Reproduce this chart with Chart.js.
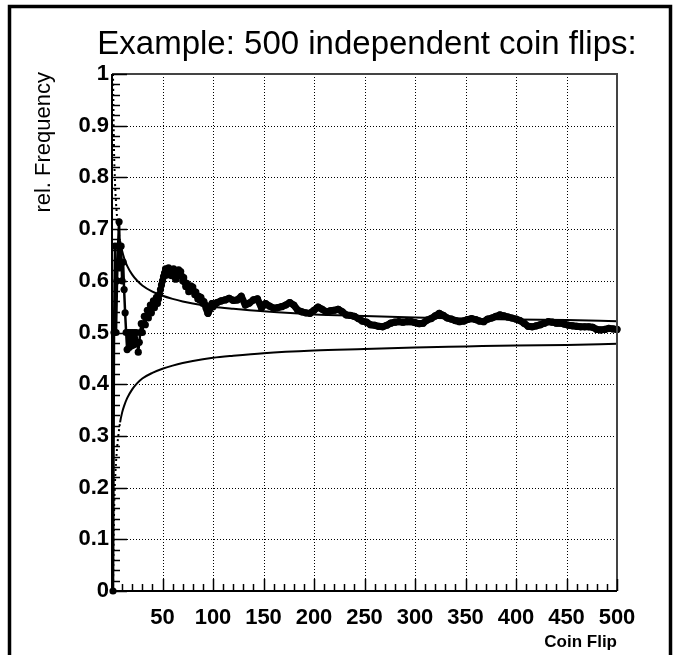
<!DOCTYPE html>
<html>
<head>
<meta charset="utf-8">
<script src="https://cdn.jsdelivr.net/npm/chart.js@4.4.0/dist/chart.umd.min.js"></script>
<style>
  html, body { margin: 0; padding: 0; background: #fff; }
  canvas { display: block; }
</style>
</head>
<body>
<canvas id="flipChart" width="677" height="655"></canvas>
<script>
// coin flip number (every flip up to 100, then every 4th)
const flips = [];
for (let n = 1; n <= 100; n++) flips.push(n);
for (let n = 104; n <= 500; n += 4) flips.push(n);

// relative frequency of heads
const relFreq = [
    0, 0.5, 0.667, 0.5, 0.6, 0.667, 0.714, 0.625, 0.667, 0.6,
    0.636, 0.583, 0.538, 0.5, 0.467, 0.5, 0.471, 0.5, 0.474, 0.5,
    0.476, 0.5, 0.478, 0.5, 0.48, 0.462, 0.481, 0.5, 0.517, 0.5,
    0.516, 0.531, 0.515, 0.529, 0.543, 0.528, 0.541, 0.553, 0.538, 0.55,
    0.561, 0.548, 0.558, 0.568, 0.556, 0.565, 0.574, 0.583, 0.592, 0.6,
    0.608, 0.615, 0.623, 0.611, 0.618, 0.625, 0.614, 0.621, 0.61, 0.617,
    0.623, 0.613, 0.603, 0.609, 0.615, 0.621, 0.612, 0.618, 0.609, 0.6,
    0.606, 0.597, 0.589, 0.595, 0.587, 0.579, 0.584, 0.59, 0.582, 0.588,
    0.58, 0.573, 0.578, 0.571, 0.565, 0.57, 0.563, 0.568, 0.562, 0.556,
    0.56, 0.554, 0.548, 0.543, 0.537, 0.542, 0.546, 0.551, 0.556, 0.55,
    // 104 .. 500 step 4
    0.558, 0.561, 0.563, 0.566, 0.562, 0.563, 0.57, 0.553, 0.557, 0.563,
    0.565, 0.548, 0.556, 0.551, 0.547, 0.548, 0.55, 0.553, 0.558, 0.553,
    0.543, 0.54, 0.538, 0.537, 0.543, 0.549, 0.545, 0.54, 0.542, 0.543,
    0.545, 0.54, 0.534, 0.533, 0.531, 0.527, 0.522, 0.52, 0.515, 0.514,
    0.512, 0.511, 0.514, 0.518, 0.52, 0.521, 0.52, 0.521, 0.521, 0.519,
    0.517, 0.518, 0.524, 0.527, 0.532, 0.537, 0.533, 0.528, 0.526, 0.523,
    0.521, 0.522, 0.525, 0.527, 0.525, 0.522, 0.521, 0.526, 0.528, 0.531,
    0.534, 0.532, 0.53, 0.528, 0.526, 0.523, 0.518, 0.512, 0.511, 0.513,
    0.515, 0.518, 0.521, 0.52, 0.518, 0.518, 0.516, 0.514, 0.513, 0.512,
    0.511, 0.511, 0.511, 0.51, 0.506, 0.505, 0.506, 0.508, 0.507, 0.506
];

// 1 sigma band curves
const bandN = [1, 2, 3, 4, 5, 6, 8, 10, 12, 15, 20, 25, 30, 40, 50, 60, 70, 80, 100, 120, 150, 200, 250, 300, 350, 400, 450, 500];
const upperBand = [1.0, 0.854, 0.789, 0.75, 0.724, 0.704, 0.677, 0.658, 0.644, 0.629, 0.612, 0.6, 0.591, 0.579, 0.571, 0.565, 0.56, 0.556, 0.55, 0.546, 0.541, 0.535, 0.532, 0.529, 0.527, 0.525, 0.524, 0.522];
const lowerBand = [0, 0.146, 0.211, 0.25, 0.276, 0.296, 0.326, 0.345, 0.358, 0.373, 0.39, 0.402, 0.411, 0.422, 0.43, 0.436, 0.441, 0.445, 0.451, 0.455, 0.46, 0.465, 0.468, 0.471, 0.473, 0.475, 0.476, 0.478];

const titleText = 'Example: 500 independent coin flips:';
const yTitle = 'rel. Frequency';
const xTitle = 'Coin Flip';

const FONT = "'Liberation Sans', Arial, Helvetica, sans-serif";

const toXY = (xs, ys) => xs.map((x, i) => ({ x: x, y: ys[i] }));

// dotted grid, inward ticks, frame and the texts (ROOT look)
const rootFrame = {
    id: 'rootFrame',
    beforeDatasetsDraw(chart) {
        const ctx = chart.ctx;
        const xs = chart.scales.x, ys = chart.scales.y;
        const a = chart.chartArea;
        ctx.save();
        ctx.strokeStyle = '#000';
        ctx.lineWidth = 1;
        ctx.setLineDash([1, 2]);
        for (let v = 50; v < 500; v += 50) {
            const px = Math.round(xs.getPixelForValue(v)) + 0.5;
            ctx.beginPath(); ctx.moveTo(px, a.top); ctx.lineTo(px, a.bottom); ctx.stroke();
        }
        for (let i = 1; i < 10; i++) {
            const py = Math.round(ys.getPixelForValue(i / 10)) + 0.5;
            ctx.beginPath(); ctx.moveTo(a.left, py); ctx.lineTo(a.right, py); ctx.stroke();
        }
        ctx.restore();
    },
    afterDraw(chart) {
        const ctx = chart.ctx;
        const xs = chart.scales.x, ys = chart.scales.y;
        const a = chart.chartArea;
        ctx.save();
        // outer pad frame
        ctx.strokeStyle = '#000';
        ctx.lineWidth = 3.5;
        ctx.strokeRect(9.5, 6.5, 661, 700);

        // top + right frame
        ctx.strokeStyle = '#444';
        ctx.lineWidth = 2;
        ctx.beginPath();
        ctx.moveTo(a.left, a.top); ctx.lineTo(a.right, a.top); ctx.lineTo(a.right, a.bottom);
        ctx.stroke();

        // axes
        ctx.strokeStyle = '#000';
        ctx.lineWidth = 2;
        ctx.beginPath();
        ctx.moveTo(a.left, a.top); ctx.lineTo(a.left, a.bottom); ctx.lineTo(a.right, a.bottom);
        ctx.stroke();

        // y ticks
        ctx.lineWidth = 1.5;
        for (let i = 0; i <= 50; i++) {
            const py = Math.round(ys.getPixelForValue(i / 50)) + 0.5;
            const len = i % 5 === 0 ? 15 : 8;
            ctx.beginPath(); ctx.moveTo(a.left, py); ctx.lineTo(a.left + len, py); ctx.stroke();
        }
        // x ticks
        for (let v = 0; v <= 500; v += 10) {
            const px = Math.round(xs.getPixelForValue(v)) + 0.5;
            const len = v % 50 === 0 ? 12 : 7;
            ctx.beginPath(); ctx.moveTo(px, a.bottom); ctx.lineTo(px, a.bottom - len); ctx.stroke();
        }

        // texts
        ctx.fillStyle = '#000';
        ctx.font = '33px ' + FONT;
        ctx.textAlign = 'center';
        ctx.textBaseline = 'alphabetic';
        ctx.fillText(titleText, 367, 54);

        ctx.font = 'bold 17px ' + FONT;
        ctx.textAlign = 'right';
        ctx.fillText(xTitle, a.right, 647);

        ctx.translate(50, a.top - 2);
        ctx.rotate(-Math.PI / 2);
        ctx.font = '22px ' + FONT;
        ctx.textAlign = 'right';
        ctx.fillText(yTitle, 0, 0);
        ctx.restore();
    }
};

const ctx = document.getElementById('flipChart').getContext('2d');
new Chart(ctx, {
    type: 'line',
    data: {
        datasets: [
            {
                label: 'upper',
                data: toXY(bandN, upperBand),
                borderColor: '#000',
                borderWidth: 2,
                pointRadius: 0,
                cubicInterpolationMode: 'monotone',
                segment: { borderDash: c => c.p0.parsed.x < 8 ? [2, 3] : undefined },
                clip: false,
                order: 2
            },
            {
                label: 'lower',
                data: toXY(bandN, lowerBand),
                borderColor: '#000',
                borderWidth: 2,
                pointRadius: 0,
                cubicInterpolationMode: 'monotone',
                segment: { borderDash: c => c.p0.parsed.x < 8 ? [2, 3] : undefined },
                clip: false,
                order: 2
            },
            {
                label: 'rel. frequency',
                data: toXY(flips, relFreq),
                borderColor: '#000',
                backgroundColor: '#000',
                borderWidth: 2,
                segment: { borderWidth: c => c.p0.parsed.x >= 95 ? 7 : 2.5 },
                borderJoinStyle: 'round',
                borderCapStyle: 'round',
                pointRadius: 3.6,
                pointBorderWidth: 0,
                pointBackgroundColor: '#000',
                clip: false,
                order: 1
            }
        ]
    },
    options: {
        responsive: false,
        animation: false,
        devicePixelRatio: 1,
        layout: { padding: { left: 0, top: 74, right: 60, bottom: 0 } },
        plugins: {
            legend: { display: false },
            tooltip: { enabled: false },
            title: { display: false }
        },
        scales: {
            x: {
                type: 'linear',
                min: 0,
                max: 500,
                grid: { display: false, drawTicks: false },
                border: { display: false },
                ticks: {
                    stepSize: 50,
                    autoSkip: false,
                    maxRotation: 0,
                    padding: 14,
                    color: '#000',
                    font: { family: FONT, size: 22, weight: 'bold' },
                    callback: v => v === 0 ? '' : String(v)
                },
                afterFit: s => { s.height = 64; }
            },
            y: {
                min: 0,
                max: 1,
                grid: { display: false, drawTicks: false },
                border: { display: false },
                ticks: {
                    stepSize: 0.1,
                    padding: 3,
                    color: '#000',
                    font: { family: FONT, size: 22, weight: 'bold' },
                    callback: v => Math.abs(v) < 1e-9 ? '0' : Math.abs(v - 1) < 1e-9 ? '1' : v.toFixed(1)
                },
                afterFit: s => { s.width = 112; }
            }
        }
    },
    plugins: [rootFrame]
});
</script>
</body>
</html>
